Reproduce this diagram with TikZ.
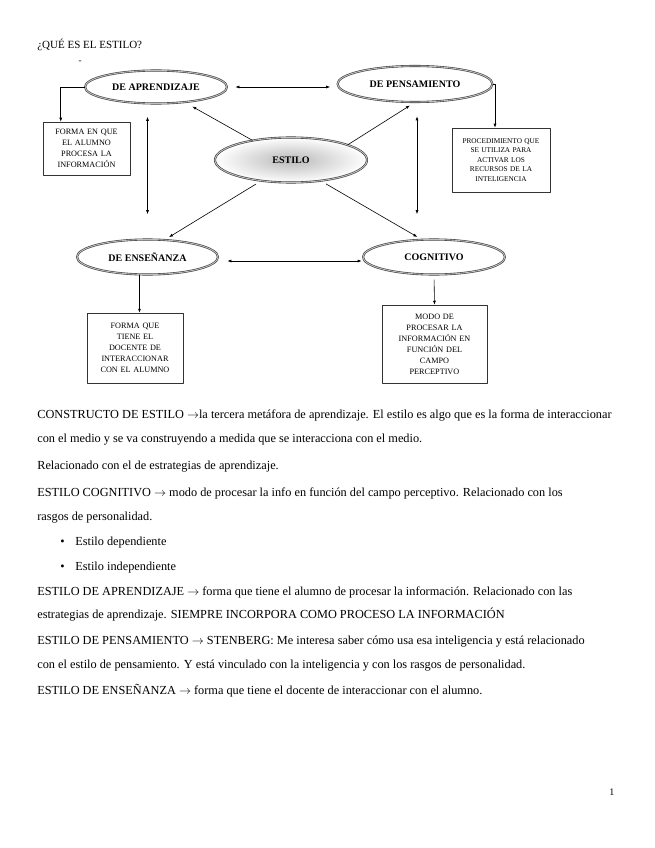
\documentclass[tikz,border=0pt]{standalone}
\usepackage{fontspec}
\setmainfont{Liberation Serif}
\usetikzlibrary{shapes.geometric,arrows.meta}
\begin{document}
\begin{tikzpicture}[x=1pt, y=-1pt, line join=round, line cap=round, line width=0.6pt,
  estilo/.style={ellipse, draw=black!75, double=gray!50, double distance=0.9pt, fill=white,
    minimum width=142pt, minimum height=33pt, inner sep=0pt, font=\bfseries\fontsize{10}{11}\selectfont},
  caja/.style={draw=black!80, line width=0.5pt, align=center, inner sep=0pt, font=\fontsize{8.2}{11}\selectfont},
  flecha/.style={-{Latex[length=4pt,width=3pt]}},
  doble/.style={{Latex[length=4pt,width=3pt]}-{Latex[length=4pt,width=3pt]}},
  linea/.style={anchor=base west, inner sep=0pt, font=\fontsize{12.3}{14}\selectfont}]
	\useasboundingbox (0,0) rectangle (655,848);
	\node[anchor=base west, inner sep=0pt, font=\fontsize{11}{12}\selectfont] (titulo) at (37,49) {¿QUÉ ES EL ESTILO?};
	\node[inner sep=0pt, font=\fontsize{9}{10}\selectfont] (guion) at (80,62) {-};
	\node[estilo] (apr) at (156,87) {DE APRENDIZAJE};
	\node[estilo, minimum width=155pt, minimum height=36pt] (pen) at (415,84) {DE PENSAMIENTO};
	\node[estilo, draw=black!75, shading=radial, inner color=gray!55, outer color=white,
	  minimum width=152pt, minimum height=45pt] (est) at (291,160) {ESTILO};
	\node[estilo, minimum width=141pt, minimum height=35pt] (ens) at (147.5,257) {DE ENSEÑANZA};
	\node[estilo, minimum width=142pt, minimum height=35pt] (cog) at (434,257) {COGNITIVO};
	\node[caja, minimum width=87pt, minimum height=53pt, text width=85pt] (caja1) at (86.5,148.5)
	  {FORMA EN QUE\\EL ALUMNO\\PROCESA LA\\INFORMACIÓN};
	\node[caja, minimum width=98pt, minimum height=64pt, text width=96pt, font=\fontsize{7.3}{9.5}\selectfont] (caja2) at (501,160)
	  {PROCEDIMIENTO QUE\\SE UTILIZA PARA\\ACTIVAR LOS\\RECURSOS DE LA\\INTELIGENCIA};
	\node[caja, minimum width=96pt, minimum height=70pt, text width=94pt] (caja3) at (135,348)
	  {FORMA QUE\\TIENE EL\\DOCENTE DE\\INTERACCIONAR\\CON EL ALUMNO};
	\node[caja, minimum width=105pt, minimum height=78pt, text width=103pt] (caja4) at (434.5,344)
	  {MODO DE\\PROCESAR LA\\INFORMACIÓN EN\\FUNCIÓN DEL\\CAMPO\\PERCEPTIVO};
	\draw[flecha] (apr.west) -| ([xshift=18pt]caja1.north west);
	\draw[flecha] (pen.east) -| ([xshift=-6pt]caja2.north);
	\draw[doble] ([xshift=8pt]apr.east) -- ([xshift=-7pt]apr.east -| pen.west);
	\draw[doble, shorten <=13pt, shorten >=25pt] (ens.north |- apr.south) -- (ens.north);
	\draw[doble, shorten <=14pt, shorten >=25pt] ([xshift=2pt]pen.south) -- ([xshift=2pt]pen.south |- cog.north);
	\draw[flecha, shorten >=8.5pt] (est.153) -- (apr.-28);
	\draw[flecha, shorten >=6pt] (est.15) -- (pen.south);
	\draw[flecha, shorten <=6pt, shorten >=5pt] (est.215) -- (ens.45);
	\draw[flecha, shorten <=6pt, shorten >=5pt] (est.-35) -- (cog.125);
	\draw[doble, shorten <=9pt, shorten >=1pt] ([yshift=-4pt]ens.east) -- ([yshift=-4pt]cog.west);
	\draw[flecha] ([xshift=-8pt]ens.south) -- ([xshift=-8pt]ens.south |- caja3.north);
	\draw[flecha, shorten <=5pt] (cog.south) -- (caja4.north);
	\foreach \x/\y/\txt [count=\i] in {
	  37/418/{CONSTRUCTO DE ESTILO $\rightarrow$la tercera metáfora de aprendizaje. El estilo es algo que es la forma de interaccionar},
	  37/442/{con el medio y se va construyendo a medida que se interacciona con el medio.},
	  37/469/{Relacionado con el de estrategias de aprendizaje.},
	  37/496/{ESTILO COGNITIVO $\rightarrow$ modo de procesar la info en función del campo perceptivo. Relacionado con los},
	  37/520/{rasgos de personalidad.},
	  75/545/{Estilo dependiente},
	  75/570/{Estilo independiente},
	  37/595/{ESTILO DE APRENDIZAJE $\rightarrow$ forma que tiene el alumno de procesar la información. Relacionado con las},
	  37/618/{estrategias de aprendizaje. SIEMPRE INCORPORA COMO PROCESO LA INFORMACIÓN},
	  37/644/{ESTILO DE PENSAMIENTO $\rightarrow$ STENBERG: Me interesa saber cómo usa esa inteligencia y está relacionado},
	  37/668/{con el estilo de pensamiento. Y está vinculado con la inteligencia y con los rasgos de personalidad.},
	  37/694/{ESTILO DE ENSEÑANZA $\rightarrow$ forma que tiene el docente de interaccionar con el alumno.}}
	\node[linea] (renglon\i) at (\x,\y) {\txt};
	\foreach \y [count=\i] in {545,570}
	\node[linea] (vineta\i) at (60,\y) {\textbullet};
	\node[linea, font=\fontsize{10}{11}\selectfont] (pagina) at (609,795) {1};
\end{tikzpicture}
\end{document}
